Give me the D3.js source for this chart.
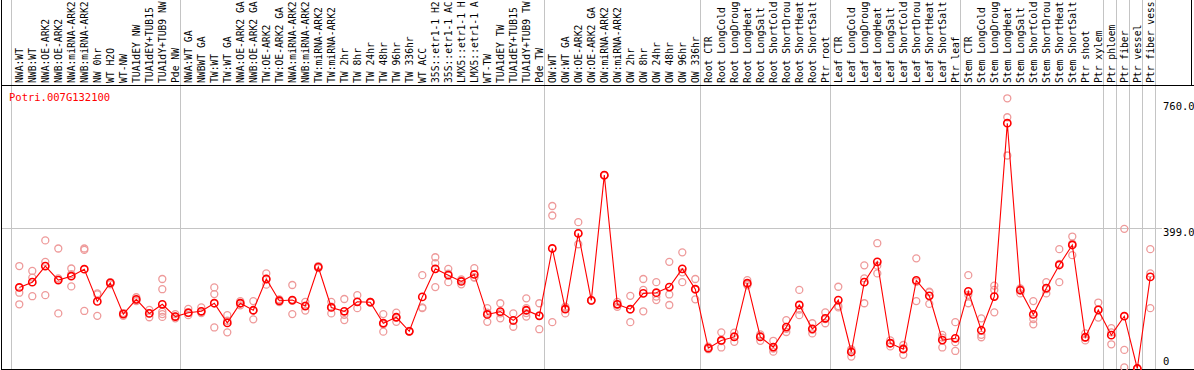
<!DOCTYPE html>
<html>
<head>
<meta charset="utf-8">
<script src="https://cdn.jsdelivr.net/npm/d3@7"></script>
<style>
  html, body { margin: 0; padding: 0; background: #fff; }
  svg { display: block; font-family: "DejaVu Sans Mono", "Liberation Mono", monospace; }
</style>
</head>
<body>
<svg id="chart" width="1194" height="370"></svg>
<script>
// ── Data ──────────────────────────────────────────────────────────────────────
const gene = 'Potri.007G132100';

const samples = [
  'NWA:WT','NWB:WT','NWA:OE-ARK2','NWB:OE-ARK2','NWA:miRNA-ARK2','NWB:miRNA-ARK2','NW 0hr','WT H2O','WT-NW',
  'TUA1dEY NW','TUA1dEY+TUB15','TUA1dY+TUB9 NW','Pde NW',
  'NWA:WT GA','NWBWT GA','TW:WT','TW:WT GA','NWA:OE-ARK2 GA','NWB:OE-ARK2 GA','TW:OE-ARK2','TW:OE-ARK2 GA',
  'NWA:miRNA-ARK2 GA','NWB:miRNA-ARK2 GA','TW:miRNA-ARK2','TW:miRNA-ARK2 GA','TW 2hr','TW 8hr','TW 24hr','TW 48hr',
  'TW 96hr','TW 336hr','WT ACC','35S::etr1-1 H2O','35S::etr1-1 ACC','LMX5::etr1-1 H2O','LMX5::etr1-1 ACC','WT-TW',
  'TUA1dEY TW','TUA1dEY+TUB15','TUA1dY+TUB9 TW','Pde TW',
  'OW:WT','OW:WT GA','OW:OE-ARK2','OW:OE-ARK2 GA','OW:miRNA-ARK2','OW:miRNA-ARK2 GA','OW 2hr','OW 8hr','OW 24hr',
  'OW 48hr','OW 96hr','OW 336hr',
  'Root CTR','Root LongCold','Root LongDrought','Root LongHeat','Root LongSalt','Root ShortCold','Root ShortDrought',
  'Root ShortHeat','Root ShortSalt','Ptr root',
  'Leaf CTR','Leaf LongCold','Leaf LongDrought','Leaf LongHeat','Leaf LongSalt','Leaf ShortCold','Leaf ShortDrought',
  'Leaf ShortHeat','Leaf ShortSalt','Ptr leaf',
  'Stem CTR','Stem LongCold','Stem LongDrought','Stem LongHeat','Stem LongSalt','Stem ShortCold','Stem ShortDrought',
  'Stem ShortHeat','Stem ShortSalt','Ptr shoot','Ptr xylem',
  'Ptr phloem','Ptr fiber','Ptr vessel','Ptr fiber vessel'
];

// index where each sample group starts (plus the end)
const groupBreaks = [0, 13, 41, 53, 63, 73, 84, 85, 86, 87, 88];

const means = [
  231,246,292,252,263,283,191,244,155,197,157,183,148,
  159,163,186,130,186,166,255,193,195,178,289,174,163,190,189,129,146,106,204,284,266,248,268,154,162,137,166,150,
  342,169,385,194,551,183,169,214,216,232,284,226,
  58,80,90,243,90,61,118,181,113,143,
  195,47,246,304,72,55,251,207,81,86,
  220,109,205,699,223,154,229,295,352,89,167,
  95,149,0,261
];

const reps = [
  [292,216,183],[278,259,206],[365,304,209],[342,257,157],[285,269,234],[342,338,164],[211,214,150],[240,245,246],
  [150,158,158],[203,195,192],[167,157,146],[255,226,162,155,147],[155,148,143],
  [170,158,152],[174,163,158],[231,212,117],[152,136,103],[192,186,180],[192,165,140],[271,255,239],[197,193,189],
  [238,193,155],[190,179,165],[292,289,286],[190,176,157],[198,153,138],[209,190,172],[190,188,188],[155,126,105],
  [159,146,133],[107,106,105],[266,174,172],[317,300,232],[284,270,246],[254,251,240],[286,260,259],[172,159,133],
  [186,157,143],[157,136,119],[200,172,165,158,148],[186,151,112],
  [463,436,132],[176,172,157],[417,385,354],[195,194,193],[551,550,550],[190,183,176],[207,168,132],[255,224,163],
  [246,205,195],[304,211,181],[331,274,246],[255,225,197],
  [62,58,55],[103,78,60],[102,92,76],[252,240,237],[97,93,79],[79,57,48],[138,113,104],[224,168,152],[129,110,100],
  [160,141,129],
  [233,178,174],[55,52,34],[294,257,186],[357,293,271],[80,72,63],[67,58,39],[314,247,192],[219,217,184],[96,88,60],
  [132,75,50],
  [266,210,186],[143,96,89],[236,224,160],[770,716,607],[228,226,214],[192,141,126],[246,226,214],[340,298,246],
  [376,356,323],[100,88,80],[188,168,145],
  [115,103,69],[398,53,3],[0,0,0],[340,271,172]
];

const yTicks = [760, 399, 0];

// ── Layout ────────────────────────────────────────────────────────────────────
const W = 1194, H = 370;
const headerBottom = 85.5, plotBottom = 369.5;
const RED = '#ff0000', PINK = '#ee9a9a', GRID = '#c4c4c4';
const MAXCH = 14; // header only has room for this many characters

const svg = d3.select('#chart');
svg.append('rect').attr('width', W).attr('height', H).attr('fill', '#fff');

const x = d3.scaleBand().domain(d3.range(samples.length)).range([11, 1155]);
const cx = i => x(i) + 8.3;
const y = d3.scaleLinear().domain([0, 760]).range([368.5, 101.8]);

// group separators
svg.append('g').selectAll('line').data(groupBreaks).join('line')
  .attr('x1', d => Math.round(x(d) ?? x.range()[1]) + 0.5)
  .attr('x2', d => Math.round(x(d) ?? x.range()[1]) + 0.5)
  .attr('y1', 0).attr('y2', plotBottom)
  .attr('stroke', GRID).attr('stroke-width', 1)
  .attr('shape-rendering', 'crispEdges');

// mid gridline
svg.append('line')
  .attr('x1', 2).attr('x2', 1162)
  .attr('y1', Math.round(y(399)) + 0.5).attr('y2', Math.round(y(399)) + 0.5)
  .attr('stroke', GRID).attr('shape-rendering', 'crispEdges');

// frame
const frame = svg.append('g').attr('stroke', '#000').attr('shape-rendering', 'crispEdges');
frame.append('line').attr('x1', 1.5).attr('x2', 1.5).attr('y1', 0).attr('y2', H);
frame.append('line').attr('x1', 1).attr('x2', W).attr('y1', headerBottom).attr('y2', headerBottom);
frame.append('line').attr('x1', 1).attr('x2', W).attr('y1', plotBottom).attr('y2', plotBottom);
frame.append('line').attr('x1', 1191.5).attr('x2', 1191.5).attr('y1', 0).attr('y2', headerBottom);

// sample labels (vertical, truncated like the header does)
svg.append('g').selectAll('text').data(samples).join('text')
  .attr('transform', (d, i) => `translate(${cx(i) + 0.3},83) rotate(-90)`)
  .attr('dominant-baseline', 'central')
  .attr('font-size', 9.7)
  .attr('fill', '#000')
  .text(d => d.slice(0, MAXCH));

// gene name
svg.append('text')
  .attr('x', 9).attr('y', 100.5)
  .attr('font-size', 10.5).attr('fill', RED)
  .text(gene);

// y labels
svg.append('g').selectAll('text').data(yTicks).join('text')
  .attr('x', 1163)
  .attr('y', d => d === 0 ? y(0) - 3.5 : y(d) + 8)
  .attr('font-size', 10.5).attr('fill', '#000')
  .text(d => d === 0 ? '0' : d.toFixed(1));

// replicates
const repPts = reps.flatMap((r, i) => r.map(v => ({ i, v })));
svg.append('g').selectAll('circle').data(repPts).join('circle')
  .attr('cx', d => cx(d.i)).attr('cy', d => y(d.v)).attr('r', 3.5)
  .attr('fill', 'none').attr('stroke', PINK).attr('stroke-width', 1.3);

// mean line
const line = d3.line().x((d, i) => cx(i)).y(d => y(d));
svg.append('path').datum(means)
  .attr('d', line).attr('fill', 'none').attr('stroke', RED).attr('stroke-width', 1.1);

// means
svg.append('g').selectAll('circle').data(means).join('circle')
  .attr('cx', (d, i) => cx(i)).attr('cy', d => y(d)).attr('r', 3.6)
  .attr('fill', 'none').attr('stroke', RED).attr('stroke-width', 1.6);
</script>
</body>
</html>
